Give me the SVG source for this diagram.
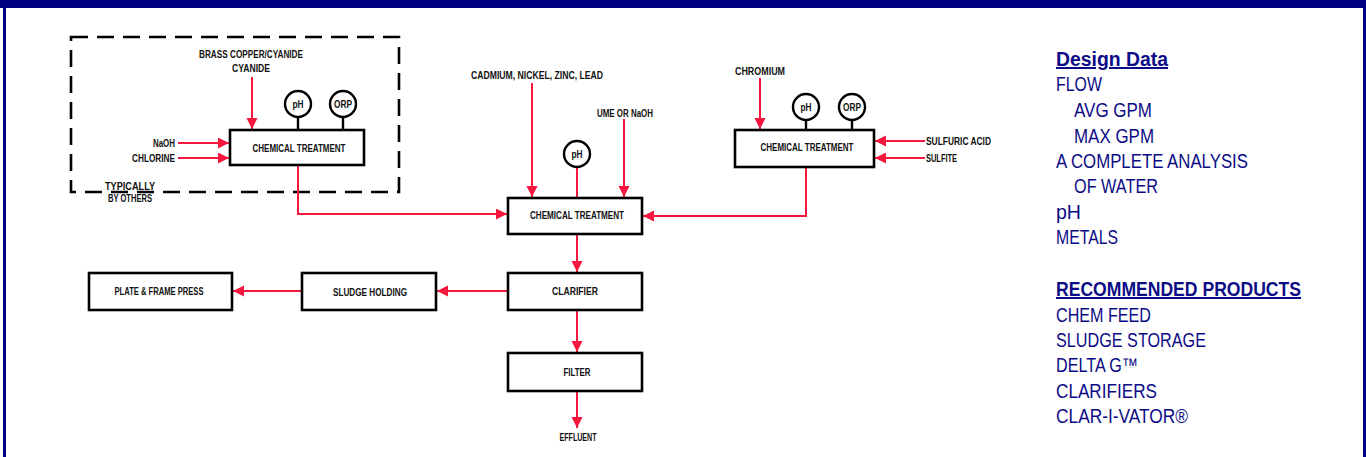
<svg xmlns="http://www.w3.org/2000/svg" width="1366" height="457" viewBox="0 0 1366 457">
<style>
.box{fill:#fff;stroke:#000;stroke-width:2.6}
.inst{fill:#fff;stroke:#000;stroke-width:2.4}
.stem{stroke:#000;stroke-width:2.4}
.flow{fill:none;stroke:#f5173d;stroke-width:2;marker-end:url(#ah)}
.line{fill:none;stroke:#f5173d;stroke-width:2}
.lbl{font-family:"Liberation Sans",Arial,sans-serif;font-weight:bold;font-size:10.5px;fill:#111}
.side{font-family:"Liberation Sans",Arial,sans-serif;font-size:20px;fill:#0c0c86}
.head{font-weight:bold;text-decoration:underline}
</style>
<defs>
<marker id="ah" markerUnits="userSpaceOnUse" markerWidth="12" markerHeight="12" refX="11" refY="5.5" orient="auto">
<path d="M0,0 L11,5.5 L0,11 z" fill="#f5173d"/>
</marker>
</defs>
<rect x="0" y="0" width="1366" height="457" fill="#fff"/>
<rect x="0" y="0" width="1366" height="8" fill="#000080"/>
<rect x="3" y="0" width="3" height="457" fill="#000080"/>
<rect x="1363" y="0" width="3" height="457" fill="#000080"/>

<g id="typically-by-others">
<rect x="71" y="37" width="328" height="155" fill="none" stroke="#000" stroke-width="2.6" stroke-dasharray="17,9"/>
<text class="lbl" x="105" y="190" textLength="50" lengthAdjust="spacingAndGlyphs">TYPICALLY</text>
<text class="lbl" x="108" y="202" textLength="44" lengthAdjust="spacingAndGlyphs">BY OTHERS</text>
</g>

<g id="connectors">
<path class="flow" d="M252,77 V129"/>
<path class="flow" d="M178,143 H229"/>
<path class="flow" d="M178,158 H229"/>
<path class="flow" d="M298,165 V214 H507"/>
<path class="flow" d="M532,83 V197"/>
<path class="flow" d="M624,119 V197"/>
<path class="line" d="M577,168 V198"/>
<path class="flow" d="M760,78 V129"/>
<path class="flow" d="M925,141 H875"/>
<path class="flow" d="M925,158 H875"/>
<path class="flow" d="M806,167 V216 H643"/>
<path class="flow" d="M577,234 V272"/>
<path class="flow" d="M508,291 H437"/>
<path class="flow" d="M302,291 H233"/>
<path class="flow" d="M577,310 V352"/>
<path class="flow" d="M577,391 V428"/>
</g>

<g id="cyanide-treatment">
<text class="lbl" x="251" y="58" text-anchor="middle" textLength="104" lengthAdjust="spacingAndGlyphs">BRASS COPPER/CYANIDE</text>
<text class="lbl" x="251" y="72" text-anchor="middle" textLength="38" lengthAdjust="spacingAndGlyphs">CYANIDE</text>
<text class="lbl" x="175" y="147" text-anchor="end" textLength="22" lengthAdjust="spacingAndGlyphs">NaOH</text>
<text class="lbl" x="175" y="162" text-anchor="end" textLength="43" lengthAdjust="spacingAndGlyphs">CHLORINE</text>
<line class="stem" x1="298" y1="117" x2="298" y2="130"/>
<line class="stem" x1="343" y1="117" x2="343" y2="130"/>
<circle class="inst" cx="298" cy="104" r="13"/>
<circle class="inst" cx="343" cy="104" r="13"/>
<text class="lbl" x="298" y="108" text-anchor="middle" textLength="11" lengthAdjust="spacingAndGlyphs">pH</text>
<text class="lbl" x="343" y="108" text-anchor="middle" textLength="18" lengthAdjust="spacingAndGlyphs">ORP</text>
<rect class="box" x="230" y="130" width="134" height="35"/>
<text class="lbl" x="299" y="152" text-anchor="middle" textLength="93" lengthAdjust="spacingAndGlyphs">CHEMICAL TREATMENT</text>
</g>

<g id="main-treatment">
<text class="lbl" x="537" y="79" text-anchor="middle" textLength="132" lengthAdjust="spacingAndGlyphs">CADMIUM, NICKEL, ZINC, LEAD</text>
<text class="lbl" x="625" y="117" text-anchor="middle" textLength="56" lengthAdjust="spacingAndGlyphs">UME OR NaOH</text>
<circle class="inst" cx="577" cy="154" r="13"/>
<text class="lbl" x="577" y="158" text-anchor="middle" textLength="11" lengthAdjust="spacingAndGlyphs">pH</text>
<rect class="box" x="508" y="198" width="134" height="36"/>
<text class="lbl" x="577" y="219" text-anchor="middle" textLength="94" lengthAdjust="spacingAndGlyphs">CHEMICAL TREATMENT</text>
</g>

<g id="chromium-treatment">
<text class="lbl" x="760" y="75" text-anchor="middle" textLength="50" lengthAdjust="spacingAndGlyphs">CHROMIUM</text>
<line class="stem" x1="806" y1="120" x2="806" y2="130"/>
<line class="stem" x1="852" y1="120" x2="852" y2="130"/>
<circle class="inst" cx="806" cy="107" r="13"/>
<circle class="inst" cx="852" cy="107" r="13"/>
<text class="lbl" x="806" y="111" text-anchor="middle" textLength="11" lengthAdjust="spacingAndGlyphs">pH</text>
<text class="lbl" x="852" y="111" text-anchor="middle" textLength="18" lengthAdjust="spacingAndGlyphs">ORP</text>
<rect class="box" x="735" y="130" width="139" height="37"/>
<text class="lbl" x="807" y="151" text-anchor="middle" textLength="93" lengthAdjust="spacingAndGlyphs">CHEMICAL TREATMENT</text>
<text class="lbl" x="926" y="145" textLength="65" lengthAdjust="spacingAndGlyphs">SULFURIC ACID</text>
<text class="lbl" x="926" y="162" textLength="31" lengthAdjust="spacingAndGlyphs">SULFITE</text>
</g>

<g id="clarifier">
<rect class="box" x="508" y="273" width="134" height="37"/>
<text class="lbl" x="575" y="295" text-anchor="middle" textLength="46" lengthAdjust="spacingAndGlyphs">CLARIFIER</text>
</g>
<g id="sludge-holding">
<rect class="box" x="302" y="273" width="134" height="37"/>
<text class="lbl" x="370" y="296" text-anchor="middle" textLength="74" lengthAdjust="spacingAndGlyphs">SLUDGE HOLDING</text>
</g>
<g id="plate-frame-press">
<rect class="box" x="89" y="273" width="143" height="37"/>
<text class="lbl" x="159" y="295" text-anchor="middle" textLength="89" lengthAdjust="spacingAndGlyphs">PLATE &amp; FRAME PRESS</text>
</g>
<g id="filter">
<rect class="box" x="508" y="353" width="134" height="38"/>
<text class="lbl" x="577" y="376" text-anchor="middle" textLength="27" lengthAdjust="spacingAndGlyphs">FILTER</text>
</g>
<g id="effluent">
<text class="lbl" x="578" y="441" text-anchor="middle" textLength="37" lengthAdjust="spacingAndGlyphs">EFFLUENT</text>
</g>

<g id="design-data">
<text class="side head" x="1056" y="66" textLength="112" lengthAdjust="spacingAndGlyphs">Design Data</text>
<text class="side" x="1056" y="91" textLength="46" lengthAdjust="spacingAndGlyphs">FLOW</text>
<text class="side" x="1074" y="117" textLength="78" lengthAdjust="spacingAndGlyphs">AVG GPM</text>
<text class="side" x="1074" y="143" textLength="80" lengthAdjust="spacingAndGlyphs">MAX GPM</text>
<text class="side" x="1056" y="168" textLength="192" lengthAdjust="spacingAndGlyphs">A COMPLETE ANALYSIS</text>
<text class="side" x="1074" y="193" textLength="84" lengthAdjust="spacingAndGlyphs">OF WATER</text>
<text class="side" x="1056" y="219" textLength="25" lengthAdjust="spacingAndGlyphs">pH</text>
<text class="side" x="1056" y="244" textLength="62" lengthAdjust="spacingAndGlyphs">METALS</text>
</g>
<g id="recommended-products">
<text class="side head" x="1056" y="296" textLength="245" lengthAdjust="spacingAndGlyphs">RECOMMENDED PRODUCTS</text>
<text class="side" x="1056" y="322" textLength="95" lengthAdjust="spacingAndGlyphs">CHEM FEED</text>
<text class="side" x="1056" y="347" textLength="150" lengthAdjust="spacingAndGlyphs">SLUDGE STORAGE</text>
<text class="side" x="1056" y="372" textLength="82" lengthAdjust="spacingAndGlyphs">DELTA G™</text>
<text class="side" x="1056" y="398" textLength="101" lengthAdjust="spacingAndGlyphs">CLARIFIERS</text>
<text class="side" x="1056" y="423" textLength="132" lengthAdjust="spacingAndGlyphs">CLAR-I-VATOR®</text>
</g>
</svg>
